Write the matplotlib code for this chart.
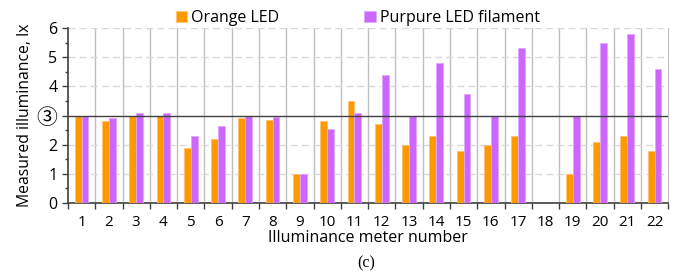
import numpy as np
import matplotlib.pyplot as plt
from matplotlib.ticker import MultipleLocator

# meter numbers and readings (lx)
meters = list(range(1, 23))
orange_led = [3.0, 2.8, 3.0, 3.0, 1.9, 2.2, 2.9, 2.85, 1.0, 2.8, 3.5,
              2.7, 2.0, 2.3, 1.8, 2.0, 2.3, 0.0, 1.0, 2.1, 2.3, 1.8]
purple_led = [3.0, 2.9, 3.1, 3.1, 2.3, 2.65, 3.0, 2.95, 1.0, 2.55, 3.1,
              4.4, 3.0, 4.8, 3.75, 3.0, 5.3, 0.0, 3.0, 5.5, 5.8, 4.6]
ytick_labels = ['0', '1', '2', '③', '4', '5', '6']

plt.rcParams['font.family'] = ['Open Sans', 'DejaVu Sans', 'Noto Sans CJK SC']

fig = plt.figure(figsize=(6.77, 2.8), dpi=100)
ax = fig.add_axes([0.1004, 0.275, 0.8866, 0.625])

x = np.array(meters)
w = 0.25
ax.bar(x - w / 2, orange_led, w, color='#ff9900', edgecolor='#ffc070', linewidth=0.6,
       label='Orange LED', zorder=3)
ax.bar(x + w / 2, purple_led, w, color='#cc66ff', edgecolor='#e0a8ff', linewidth=0.6,
       label='Purpure LED filament', zorder=3)

ax.set_xlim(0.5, 22.5)
ax.set_ylim(0, 6)

# vertical separators between meters
for b in np.arange(1.5, 22.5, 1.0):
    ax.axvline(b, color='#bfbfbf', lw=1.0, zorder=1)
# dashed horizontal grid
for yv in [1, 2, 4, 5, 6]:
    ax.axhline(yv, color='#d9d9d9', lw=1.0, ls=(0, (5, 3)), zorder=1)
ax.axhline(3, color='#404040', lw=1.0, zorder=4)

ax.set_xticks(x)
ax.set_xticklabels([str(m) for m in meters], fontsize=11)
ax.set_xticks(np.arange(0.5, 23, 1.0), minor=True)
ax.tick_params(axis='x', which='major', length=0, pad=9)
ax.tick_params(axis='x', which='minor', length=4, width=1, color='#404040', direction='out')

ax.set_yticks(range(7))
ax.set_yticklabels(ytick_labels, fontsize=11.5)
ax.yaxis.set_minor_locator(MultipleLocator(0.5))
ax.tick_params(axis='y', which='major', length=4, width=1, color='#404040')
ax.tick_params(axis='y', which='minor', length=2.5, width=1, color='#404040')
for lab in ax.get_yticklabels():
    if lab.get_text() == '③':
        lab.set_fontfamily(['Noto Sans CJK SC', 'DejaVu Sans'])
        lab.set_fontsize(15)

ax.spines['top'].set_visible(False)
ax.spines['right'].set_color('#bfbfbf')
ax.spines['left'].set_color('#404040')
ax.spines['bottom'].set_color('#404040')
ax.spines['left'].set_linewidth(1.2)
ax.spines['bottom'].set_linewidth(1.2)

ax.set_ylabel('Measured illuminance, lx', fontsize=11.3, labelpad=3)
ax.set_xlabel('Illuminance meter number', fontsize=11.5, labelpad=0)

ax.legend(loc='lower center', bbox_to_anchor=(0.483, 0.975), ncol=2, frameon=False,
          fontsize=11.5, handlelength=0.75, handleheight=0.75, handletextpad=0.25,
          columnspacing=5.3, borderaxespad=0)

fig.text(0.541, 0.03, '(c)', ha='center', va='bottom', fontsize=11.5,
         family='Liberation Serif')

fig.savefig('out.png', dpi=100)
